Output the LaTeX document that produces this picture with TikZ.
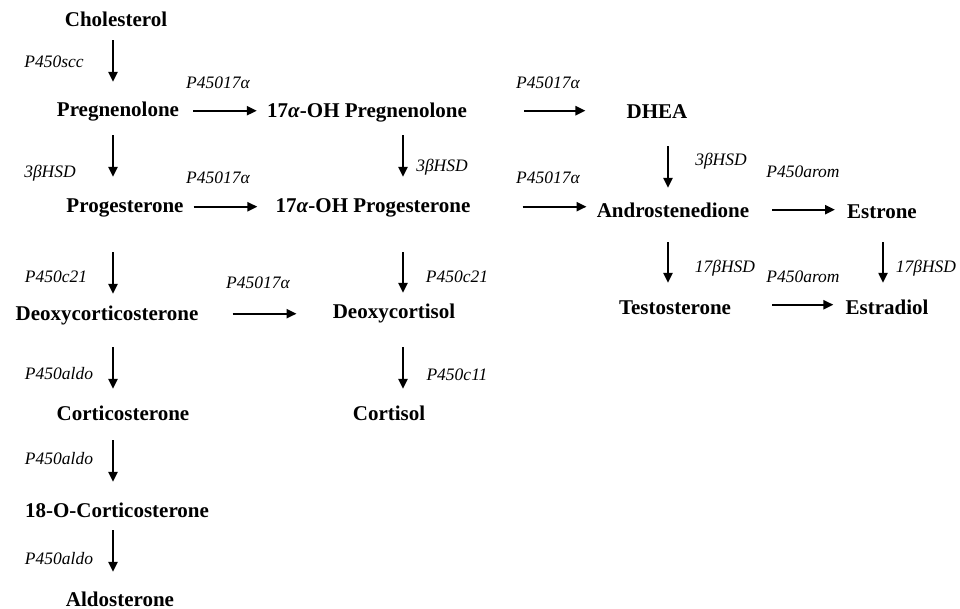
\documentclass[tikz,border=0pt]{standalone}
\usepackage{fontspec}
\setmainfont{Liberation Serif}
\usepackage{tikz}
\usetikzlibrary{arrows.meta}

\begin{document}
\begin{tikzpicture}[x=1pt, y=-1pt,
  compound/.style={font=\bfseries\fontsize{21}{25}\selectfont, anchor=base, inner sep=0pt, text height=14pt, text depth=4pt},
  enzyme/.style={font=\itshape\fontsize{17.5}{20}\selectfont, anchor=base, inner sep=0pt},
  arr/.style={line width=2.3pt, -{Triangle[length=10pt, width=9pt]}}]
  \useasboundingbox (0,0) rectangle (960,609);

  % compounds
  \node[compound] (chol) at (116,27) {Cholesterol};
  \node[compound] (preg) at (118,117) {Pregnenolone};
  \node[compound] (prog) at (125,213) {Progesterone};
  \node[compound] (dcc) at (107,320) {Deoxycorticosterone};
  \node[compound] (cort) at (123,420) {Corticosterone};
  \node[compound] (oxo) at (117,517) {18-O-Corticosterone};
  \node[compound] (aldo) at (120,606) {Aldosterone};
  \node[compound] (ohpreg) at (367,118) {17\textit{α}-OH Pregnenolone};
  \node[compound] (ohprog) at (373,213) {17\textit{α}-OH Progesterone};
  \node[compound] (dcol) at (394,318) {Deoxycortisol};
  \node[compound] (cortisol) at (389,420) {Cortisol};
  \node[compound] (dhea) at (657,119) {DHEA};
  \node[compound] (andro) at (673,218) {Androstenedione};
  \node[compound] (estrone) at (882,219) {Estrone};
  \node[compound] (testo) at (675,314) {Testosterone};
  \node[compound] (estradiol) at (887,314) {Estradiol};

  % enzymes
  \node[enzyme] (scc) at (54,68) {P450scc};
  \node[enzyme] (hsdA) at (50,178) {3βHSD};
  \node[enzyme] (cA) at (56,283) {P450c21};
  \node[enzyme] (aldoA) at (59,379) {P450aldo};
  \node[enzyme] (aldoB) at (59,464) {P450aldo};
  \node[enzyme] (aldoC) at (59,564) {P450aldo};
  \node[enzyme] (lyA) at (218,89) {P45017α};
  \node[enzyme] (lyB) at (218,184) {P45017α};
  \node[enzyme] (lyC) at (258,289) {P45017α};
  \node[enzyme] (hsdB) at (442,172) {3βHSD};
  \node[enzyme] (cB) at (457,283) {P450c21};
  \node[enzyme] (cC) at (457,380) {P450c11};
  \node[enzyme] (lyD) at (548,89) {P45017α};
  \node[enzyme] (lyE) at (548,184) {P45017α};
  \node[enzyme] (hsdC) at (721,166) {3βHSD};
  \node[enzyme] (aromA) at (803,178) {P450arom};
  \node[enzyme] (hsdD) at (725,273) {17βHSD};
  \node[enzyme] (hsdE) at (926,273) {17βHSD};
  \node[enzyme] (aromB) at (803,283) {P450arom};

  % columns of the downward arrows
  \coordinate (colA) at (113,0);
  \coordinate (colB) at (403,0);
  \coordinate (colC) at (668,0);
  \coordinate (colD) at (883,0);

  \draw[arr, shorten <=9pt, shorten >=21pt] (chol.south -| colA) -- (preg.north -| colA);
  \draw[arr, shorten <=14pt, shorten >=22pt] (preg.south -| colA) -- (prog.north -| colA);
  \draw[arr, shorten <=35pt, shorten >=12pt] (prog.south -| colA) -- (dcc.north -| colA);
  \draw[arr, shorten <=23pt, shorten >=17pt] (dcc.south -| colA) -- (cort.north -| colA);
  \draw[arr, shorten <=16pt, shorten >=21pt] (cort.south -| colA) -- (oxo.north -| colA);
  \draw[arr, shorten <=9pt, shorten >=20pt] (oxo.south -| colA) -- (aldo.north -| colA);
  \draw[arr, shorten <=13pt, shorten >=22pt] (ohpreg.south -| colB) -- (ohprog.north -| colB);
  \draw[arr, shorten <=35pt, shorten >=11pt] (ohprog.south -| colB) -- (dcol.north -| colB);
  \draw[arr, shorten <=25pt, shorten >=17pt] (dcol.south -| colB) -- (cortisol.north -| colB);
  \draw[arr, shorten <=23pt, shorten >=16pt] (dhea.south -| colC) -- (andro.north -| colC);
  \draw[arr, shorten <=20pt, shorten >=17pt] (andro.south -| colC) -- (testo.north -| colC);
  \draw[arr, shorten <=19pt, shorten >=17pt] (estrone.south -| colD) -- (estradiol.north -| colD);

  % sideways arrows
  \draw[arr, shorten <=14pt, shorten >=10pt] ([yshift=4pt]preg.mid east) -- ([yshift=4pt]preg.mid east -| ohpreg.west);
  \draw[arr, shorten <=10pt, shorten >=18pt] ([yshift=4pt]prog.mid east) -- ([yshift=4pt]prog.mid east -| ohprog.west);
  \draw[arr, shorten <=34pt, shorten >=36pt] ([yshift=4pt]dcc.mid east) -- ([yshift=4pt]dcc.mid east -| dcol.west);
  \draw[arr, shorten <=57pt, shorten >=41pt] ([yshift=5pt]ohpreg.mid east) -- ([yshift=5pt]ohpreg.mid east -| dhea.west);
  \draw[arr, shorten <=52pt, shorten >=10pt] ([yshift=4pt]ohprog.mid east) -- ([yshift=4pt]ohprog.mid east -| andro.west);
  \draw[arr, shorten <=23pt, shorten >=12pt] ([yshift=6pt]andro.mid east) -- ([yshift=6pt]andro.mid east -| estrone.west);
  \draw[arr, shorten <=41pt, shorten >=12pt] ([yshift=7pt]testo.mid east) -- ([yshift=7pt]testo.mid east -| estradiol.west);
\end{tikzpicture}
\end{document}
